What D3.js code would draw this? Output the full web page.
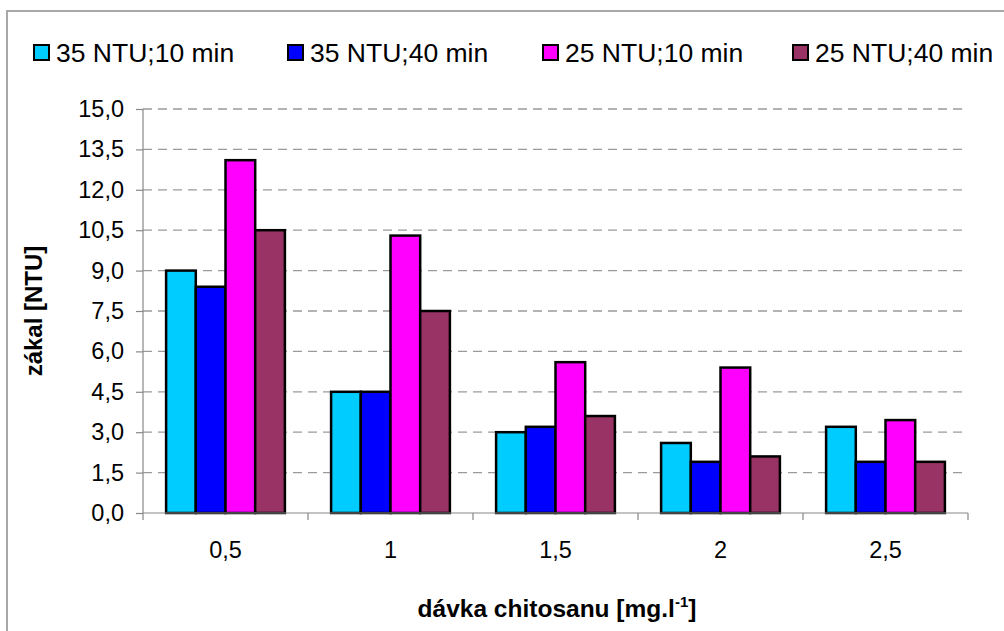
<!DOCTYPE html>
<html>
<head>
<meta charset="utf-8">
<script src="https://cdn.jsdelivr.net/npm/d3@7"></script>
<style>
  html, body { margin: 0; padding: 0; background: #fff; }
  svg { display: block; font-family: "Liberation Sans", Arial, sans-serif; }
</style>
</head>
<body>
<svg id="chart" width="1004" height="631"></svg>
<script>
const categories = ["0,5", "1", "1,5", "2", "2,5"];
const seriesNames = ["35 NTU;10 min", "35 NTU;40 min", "25 NTU;10 min", "25 NTU;40 min"];
const seriesColors = ["#00CCFF", "#0000FF", "#FF00FF", "#993366"];
const s35_10 = [9.0, 4.5, 3.0, 2.6, 3.2];
const s35_40 = [8.4, 4.5, 3.2, 1.9, 1.9];
const s25_10 = [13.1, 10.3, 5.6, 5.4, 3.45];
const s25_40 = [10.5, 7.5, 3.6, 2.1, 1.9];
const seriesValues = [s35_10, s35_40, s25_10, s25_40];
const yTicks = [0, 1.5, 3, 4.5, 6, 7.5, 9, 10.5, 12, 13.5, 15];
const yTitle = "zákal [NTU]";
const xTitle = "dávka chitosanu [mg.l";

const svg = d3.select("#chart");

// outer frame (top and left visible)
svg.append("rect").attr("x", 7).attr("y", 11).attr("width", 1010).attr("height", 640)
  .attr("fill", "none").attr("stroke", "#a8a8a8").attr("stroke-width", 2);

const pLeft = 143, pRight = 968, pTop = 109, pBottom = 513;

const x0 = d3.scaleBand().domain(categories).range([pLeft, pRight]).padding(0);
const bw = x0.bandwidth();
const x1 = d3.scaleBand().domain(seriesNames).range([bw * 0.14, bw * 0.86]).padding(0);
const y = d3.scaleLinear().domain([0, 15]).range([pBottom, pTop]);

const fmt = v => d3.format(".1f")(v).replace(".", ",");

// gridlines
svg.append("g").selectAll("line").data(yTicks.filter(d => d > 0)).join("line")
  .attr("x1", pLeft).attr("x2", pRight)
  .attr("y1", d => y(d)).attr("y2", d => y(d))
  .attr("stroke", "#9a9a9a").attr("stroke-width", 1.3)
  .attr("stroke-dasharray", "9,6");

// y axis
const yAxis = d3.axisLeft(y).tickValues(yTicks).tickFormat(fmt).tickSize(7).tickPadding(12);
const gy = svg.append("g").attr("transform", `translate(${pLeft},0)`).call(yAxis);
gy.select(".domain").attr("stroke", "#888").attr("stroke-width", 1.2).attr("d", `M0,${pTop}V${pBottom}`);
gy.selectAll(".tick line").attr("stroke", "#888").attr("stroke-width", 1.2);
gy.selectAll(".tick text").attr("font-size", 23.5).attr("fill", "#000")
  .attr("font-family", "Liberation Sans, Arial, sans-serif");

// bars
const groups = svg.append("g").selectAll("g").data(categories).join("g")
  .attr("transform", d => `translate(${x0(d)},0)`);
groups.selectAll("rect").data((d, i) => seriesNames.map((s, j) => ({ s, j, v: seriesValues[j][i] })))
  .join("rect")
  .attr("x", d => x1(d.s))
  .attr("width", x1.bandwidth())
  .attr("y", d => y(d.v))
  .attr("height", d => y(0) - y(d.v))
  .attr("fill", d => seriesColors[d.j])
  .attr("stroke", "#000").attr("stroke-width", 2.5);

// x axis
const gx = svg.append("g").attr("transform", `translate(0,${pBottom})`);
gx.append("line").attr("x1", pLeft).attr("x2", pRight).attr("y1", 0).attr("y2", 0)
  .attr("stroke", "#888").attr("stroke-width", 1.2);
const boundaries = categories.map(c => x0(c)).concat([x0(categories[categories.length - 1]) + bw]);
gx.selectAll("line.tk").data(boundaries).join("line").attr("class", "tk")
  .attr("x1", d => d).attr("x2", d => d).attr("y1", 0).attr("y2", 7)
  .attr("stroke", "#888").attr("stroke-width", 1.2);
gx.selectAll("text").data(categories).join("text")
  .attr("x", d => x0(d) + bw / 2).attr("y", 45)
  .attr("text-anchor", "middle").attr("font-size", 23.5).attr("fill", "#000")
  .text(d => d);

// axis titles
svg.append("text")
  .attr("transform", `translate(42,311) rotate(-90)`)
  .attr("text-anchor", "middle").attr("font-size", 24).attr("font-weight", "bold")
  .text(yTitle);

const xt = svg.append("text")
  .attr("x", 557).attr("y", 617)
  .attr("text-anchor", "middle").attr("font-size", 24.5).attr("font-weight", "bold");
xt.append("tspan").text(xTitle);
xt.append("tspan").attr("font-size", 15).attr("dy", -10).text("-1");
xt.append("tspan").attr("dy", 10).text("]");

// legend
const legendX = [33, 287, 542, 792];
const lg = svg.append("g").selectAll("g").data(seriesNames).join("g")
  .attr("transform", (d, i) => `translate(${legendX[i]},0)`);
lg.append("rect").attr("x", 1).attr("y", 45).attr("width", 15).attr("height", 15)
  .attr("fill", (d, i) => seriesColors[i]).attr("stroke", "#000").attr("stroke-width", 2);
lg.append("text").attr("x", 23).attr("y", 62).attr("font-size", 26.5).attr("fill", "#000")
  .text(d => d);
</script>
</body>
</html>
